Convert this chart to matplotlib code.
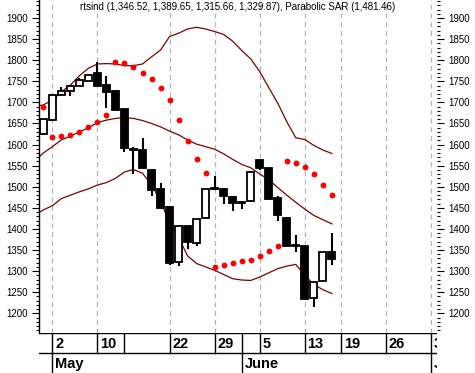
import numpy as np
import matplotlib
matplotlib.use('Agg')
import matplotlib.pyplot as plt

plt.rcParams['font.family'] = ['Liberation Sans', 'DejaVu Sans']

# trading-day index (0 = May 2)
days = list(range(-1, 32))
opens = [1625, 1658, 1718, 1727, 1740, 1751, 1770, 1741, 1728, 1684, 1590,
         1587, 1540, 1494, 1453, 1322, 1408, 1366, 1425, 1497, 1495, 1476,
         1463, 1466, 1563, 1544, 1473, 1427, 1361, 1360, 1237, 1277, 1346.52]
highs = [1660, 1718, 1736, 1740, 1759, 1766, 1796, 1762, 1729, 1685, 1594,
         1616, 1541, 1510, 1454, 1408, 1409, 1424, 1495, 1525, 1498, 1477,
         1464, 1537, 1563, 1545, 1478, 1428, 1386, 1361, 1274, 1345, 1389.65]
lows = [1622, 1656, 1716, 1716, 1739, 1750, 1739, 1686, 1681, 1583, 1530,
        1543, 1479, 1448, 1315, 1312, 1352, 1360, 1424, 1493, 1458, 1443,
        1447, 1465, 1540, 1469, 1420, 1359, 1346, 1232, 1216, 1276, 1315.66]
closes = [1660, 1717, 1727, 1739, 1752, 1765, 1740, 1725, 1682, 1591, 1588,
          1544, 1492, 1449, 1320, 1408, 1368, 1424, 1495, 1494, 1478, 1461,
          1462, 1536, 1544, 1470, 1433, 1360, 1359, 1233, 1274, 1345, 1329.87]

sar = [1690, 1619, 1620, 1623, 1631, 1641, 1653, 1671, 1796, 1794, 1785,
       1770, 1755, 1733, 1706, 1658, 1608, 1567, 1532, 1311, 1315, 1320,
       1324, 1326, 1336, 1348, 1360, 1561, 1556, 1548, 1530, 1504, 1481.46]

band_days = list(range(-2, 32))
upper = [1690, 1694, 1705, 1725, 1741, 1763, 1781, 1791, 1792, 1791, 1787,
         1787, 1791, 1808, 1824, 1856, 1864, 1874, 1878, 1874, 1868, 1861,
         1845, 1823, 1803, 1773, 1735, 1698, 1654, 1616, 1612, 1598, 1587, 1579]
middle = [1560, 1580, 1595, 1611, 1620, 1630, 1640, 1652, 1658, 1662, 1664,
          1662, 1657, 1650, 1642, 1632, 1623, 1611, 1601, 1595, 1589, 1578,
          1565, 1553, 1545, 1530, 1517, 1498, 1480, 1463, 1447, 1432, 1422, 1412]
lower = [1432, 1445, 1455, 1472, 1480, 1488, 1495, 1504, 1510, 1520, 1535,
         1541, 1532, 1505, 1465, 1415, 1380, 1336, 1318, 1310, 1302, 1292,
         1282, 1279, 1278, 1286, 1296, 1306, 1312, 1316, 1290, 1268, 1256, 1247]

date_ticks = [0, 5, 13, 18, 23, 28, 32, 37, 42]
date_labels = ['2', '10', '22', '29', '5', '13', '19', '26', '3']
week_lines = [0, 5, 8, 13, 18, 21, 23, 28, 32, 37, 42]
month_ticks = [0, 21, 42]
month_labels = ['May', 'June', 'July']

title = ('rtsind (1,346.52, 1,389.65, 1,315.66, 1,329.87), '
         'Parabolic SAR (1,481.46)')

fig = plt.figure(figsize=(4.75, 3.73), dpi=100)
ax = fig.add_axes([39 / 475, 40 / 373, 398 / 475, 333 / 373])
xmin, xmax = -1.475, 42.65
ax.set_xlim(xmin, xmax)
ax.set_ylim(1153.4, 1942.7)

for d in date_ticks:
    ax.axvline(d, color='#b4b4b4', lw=0.9, ls=(0, (4, 3)), zorder=0)

ax.plot(band_days, upper, color='#800000', lw=0.9, zorder=2)
ax.plot(band_days, middle, color='#800000', lw=0.9, zorder=2)
ax.plot(band_days, lower, color='#800000', lw=0.9, zorder=2)

o = np.array(opens)
c = np.array(closes)
up = c >= o
ax.vlines(days, lows, highs, color='black', lw=1.5, zorder=3)
ax.bar(days, c - o, bottom=o, width=0.78,
       color=np.where(up, 'white', 'black'), edgecolor='black',
       linewidth=1.3, zorder=4)

ax.plot(days, sar, ls='none', marker='o', ms=4.2, color='#ff0000',
        markeredgewidth=0, zorder=5)

ax.set_yticks(np.arange(1200, 1901, 50))
ax.set_yticks(np.arange(1160, 1941, 10), minor=True)
ax.set_xticks([])
ax.tick_params(axis='y', which='major', length=5, width=0.8, pad=3,
               labelsize=7, left=True, right=True, labelright=True)
ax.tick_params(axis='y', which='minor', length=2, width=0.8,
               left=True, right=True)
for s in ['top', 'right', 'bottom']:
    ax.spines[s].set_visible(False)
ax.spines['left'].set_linewidth(1.0)

fig.text(237.5 / 475, 1 - 7.5 / 373, title, ha='center', va='center',
         fontsize=7)

# date table under the plot
tx = fig.add_axes([39 / 475, 0, 398 / 475, 40 / 373])
tx.set_xlim(xmin, xmax)
tx.set_ylim(0, 40)
tx.axis('off')
tx.axhline(40, color='black', lw=1.0)
tx.axhline(20, color='black', lw=1.0)
for d in week_lines:
    tx.plot([d, d], [20, 40], color='black', lw=1.0)
for d in month_ticks:
    tx.plot([d, d], [0, 20], color='black', lw=1.0)
for d, lab in zip(date_ticks, date_labels):
    tx.text(d + 0.3, 29.5, lab, ha='left', va='center', fontsize=10.5,
            fontweight='bold', clip_on=True)
for d, lab in zip(month_ticks, month_labels):
    tx.text(d + 0.3, 9, lab, ha='left', va='center', fontsize=10.5,
            fontweight='bold', clip_on=True)

fig.savefig('out.png', dpi=100)
